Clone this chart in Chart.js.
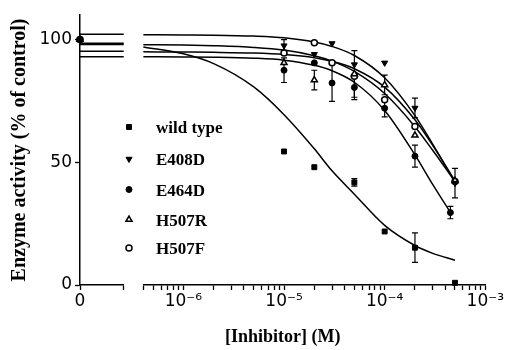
<!DOCTYPE html>
<html>
<head>
<meta charset="utf-8">
<script src="https://cdn.jsdelivr.net/npm/chart.js@4.4.1/dist/chart.umd.min.js"></script>
<style>
  html, body { margin: 0; padding: 0; background: #fff; }
  #wrap { width: 505px; height: 350px; }
</style>
</head>
<body>
<div id="wrap"><canvas id="enzymeChart" width="505" height="350"></canvas></div>
<script>
// Series names, in legend order.
const seriesNames = ["wild type", "E408D", "E464D", "H507R", "H507F"];

// Inhibitor concentrations (M) of the measured points.
const conc = [1e-5, 2e-5, 3e-5, 5e-5, 1e-4, 2e-4, 5e-4];
const concE464D = [1e-5, 2e-5, 3e-5, 5e-5, 1e-4, 2e-4, 4.5e-4];

// Measured enzyme activity (% of control), null = no point.
const wildType = [54.4, 48, null, 41.8, 21.8, 15.2, 0.9];
const e408d = [97.5, 94, 98.4, 89.8, 90.5, 72.1, 41.5];
const e464d = [87.5, 90.5, 82.3, 80.5, 72, 52.5, 29.5];
const h507r = [90.5, 83.5, null, 86, 81.5, 61, 42.5];
const h507f = [94.5, 98.7, 90.5, 85, 75.5, 64.6, 42.2];

// Error bars (+/-) for the same points, 0 = none drawn.
const wildTypeErr = [0, 0, 0, 1.5, 0, 6, 0];
const e408dErr = [2.5, 0, 0, 0, 0, 4, 6];
const e464dErr = [5, 0, 7.5, 5, 3.5, 4.5, 2.5];
const h507rErr = [0, 4, 0, 9.5, 4, 0, 0];
const h507fErr = [0, 0, 0, 0, 0, 0, 0];

// Activity with no inhibitor (the "0" point of every series).
const controlValue = 100;

// Fitted curves at these concentrations.
const fitConc = [4e-7, 1e-6, 2e-6, 5e-6, 1e-5, 2e-5, 3e-5, 5e-5, 1e-4, 2e-4, 3e-4, 5e-4];
const fitConcE464D = [4e-7, 1e-6, 2e-6, 5e-6, 1e-5, 2e-5, 3e-5, 5e-5, 1e-4, 2e-4, 3e-4, 4.5e-4];
const wildTypeFit = [97, 94.2, 90.2, 80.7, 69.4, 55.5, 46.5, 37, 24.3, 16.1, 12.9, 10.1];
const e408dFit = [102, 101.9, 101.8, 101.4, 100.7, 99.0, 97.2, 93.5, 84.4, 69.0, 57.4, 41.9];
const e464dFit = [93, 92.9, 92.8, 92.4, 91.6, 89.5, 87.3, 82.6, 71.1, 53.0, 41.0, 29.6];
const h507rFit = [95, 94.9, 94.8, 94.5, 93.9, 92.6, 91.1, 88.1, 80.6, 67.3, 56.9, 42.5];
const h507fFit = [97.9, 97.8, 97.5, 96.8, 95.7, 93.4, 91.2, 87.0, 78.0, 64.5, 54.9, 42.2];

// Top plateau of each fit, drawn across the "0" part of the broken axis.
const fitTop = [98.5, 102.2, 93, 95.2, 98];

// Axis ticks.
const yTicks = [0, 50, 100];
const logLabelExps = [-6, -5, -4, -3];

const allConc = [conc, conc, concE464D, conc, conc];
const allValues = [wildType, e408d, e464d, h507r, h507f];
const allErrors = [wildTypeErr, e408dErr, e464dErr, h507rErr, h507fErr];
const allFitConc = [fitConc, fitConc, fitConcE464D, fitConc, fitConc];
const allFits = [wildTypeFit, e408dFit, e464dFit, h507rFit, h507fFit];

// Marker look of each series (filled / open).
const markerStyles = [
  { pointStyle: "rect", rotation: 0, radius: 3.5, fill: "#000", border: 1 },
  { pointStyle: "triangle", rotation: 180, radius: 3.5, fill: "#000", border: 1 },
  { pointStyle: "circle", rotation: 0, radius: 3, fill: "#000", border: 1 },
  { pointStyle: "triangle", rotation: 0, radius: 3.5, fill: "#fff", border: 1.5 },
  { pointStyle: "circle", rotation: 0, radius: 3, fill: "#fff", border: 1.5 },
];

const sansFont = "'DejaVu Sans', 'Liberation Sans', Arial, sans-serif";
const serifFont = "'Liberation Serif', 'Times New Roman', serif";

// Build the datasets: plateau line, fit curve, control point, measured points.
const datasets = [];
seriesNames.forEach((name, i) => {
  const st = markerStyles[i];
  const pointOpts = {
    showLine: false,
    pointStyle: st.pointStyle,
    pointRotation: st.rotation,
    pointRadius: st.radius,
    pointHoverRadius: st.radius,
    pointBackgroundColor: st.fill,
    pointBorderColor: "#000",
    pointBorderWidth: st.border,
    clip: false,
    order: 1,
  };
  datasets.push({
    label: name + " top",
    xAxisID: "xZero",
    data: [{ x: 0, y: fitTop[i] }, { x: 1, y: fitTop[i] }],
    showLine: true, borderColor: "#000", borderWidth: 1.5, pointRadius: 0, clip: false, order: 2,
  });
  datasets.push({
    label: name + " fit",
    xAxisID: "x",
    data: allFitConc[i].map((c, j) => ({ x: c, y: allFits[i][j] })),
    showLine: true, cubicInterpolationMode: "monotone",
    borderColor: "#000", borderWidth: 1.5, pointRadius: 0, clip: false, order: 2,
  });
  datasets.push({ label: name, xAxisID: "xZero", data: [{ x: 0, y: controlValue }], ...pointOpts });
  datasets.push({
    label: name,
    xAxisID: "x",
    data: allConc[i]
      .map((c, j) => ({ x: c, y: allValues[i][j], e: allErrors[i][j] }))
      .filter(p => p.y !== null),
    hasErrors: true,
    ...pointOpts,
  });
});

// Error bars drawn through the chart's own scales.
const errorBarPlugin = {
  id: "errorBars",
  beforeDatasetsDraw(chart) {
    const ctx = chart.ctx;
    chart.data.datasets.forEach((ds, i) => {
      if (!ds.hasErrors) return;
      const meta = chart.getDatasetMeta(i);
      const xs = chart.scales[meta.xAxisID];
      const ys = chart.scales[meta.yAxisID];
      ds.data.forEach(p => {
        if (!p.e) return;
        const px = xs.getPixelForValue(p.x);
        const top = ys.getPixelForValue(p.y + p.e);
        const bot = ys.getPixelForValue(p.y - p.e);
        ctx.save();
        ctx.strokeStyle = "#000";
        ctx.lineWidth = 1.2;
        ctx.beginPath();
        ctx.moveTo(px, top); ctx.lineTo(px, bot);
        ctx.moveTo(px - 3, top); ctx.lineTo(px + 3, top);
        ctx.moveTo(px - 3, bot); ctx.lineTo(px + 3, bot);
        ctx.stroke();
        ctx.restore();
      });
    });
  }
};

// Legend inside the plot, left side.
const legendRows = [129, 161, 191.5, 221.5, 250];
const legendPlugin = {
  id: "insideLegend",
  afterDraw(chart) {
    const ctx = chart.ctx;
    seriesNames.forEach((name, i) => {
      const st = markerStyles[i];
      const y = legendRows[i];
      ctx.save();
      ctx.fillStyle = st.fill;
      ctx.strokeStyle = "#000";
      ctx.lineWidth = st.border;
      Chart.helpers.drawPoint(ctx, {
        pointStyle: st.pointStyle, rotation: st.rotation, radius: st.radius, borderWidth: st.border
      }, 129, y - 2);
      ctx.fillStyle = "#000";
      ctx.font = "bold 17px " + serifFont;
      ctx.textBaseline = "middle";
      ctx.textAlign = "left";
      ctx.fillText(name, 156, y);
      ctx.restore();
    });
  }
};

const tickFont = { family: sansFont, size: 17 };
const titleFont = { family: serifFont, size: 18, weight: "bold" };
const axisGrid = { drawOnChartArea: false, tickLength: 5, tickColor: "#000", tickWidth: 1.3 };
const axisBorder = { color: "#000", width: 1.5 };
const supMap = { "-": "\u207B", "0": "\u2070", "1": "\u00B9", "2": "\u00B2", "3": "\u00B3",
  "4": "\u2074", "5": "\u2075", "6": "\u2076", "7": "\u2077", "8": "\u2078", "9": "\u2079" };

const chart = new Chart(document.getElementById("enzymeChart"), {
  type: "scatter",
  data: { datasets },
  plugins: [errorBarPlugin, legendPlugin],
  options: {
    responsive: false,
    animation: false,
    layout: { padding: { top: 15, right: 17, bottom: 0, left: 0 } },
    plugins: { legend: { display: false }, tooltip: { enabled: false } },
    scales: {
      y: {
        type: "linear",
        position: "left",
        min: 0,
        max: 110,
        afterBuildTicks: ax => { ax.ticks = yTicks.map(v => ({ value: v })); },
        afterFit: s => { s.width = 80; },
        ticks: { font: tickFont, color: "#000", padding: 3, callback: v => String(v) },
        grid: axisGrid,
        border: axisBorder,
        title: {
          display: true, text: "Enzyme activity (% of control)",
          font: { family: serifFont, size: 20, weight: "bold" }, color: "#000",
          padding: { top: 8, bottom: 0 }
        }
      },
      // "0" part of the broken x axis
      xZero: {
        type: "linear",
        position: "bottom",
        stack: "xs",
        stackWeight: 44,
        min: 0,
        max: 1,
        afterBuildTicks: ax => { ax.ticks = [{ value: 0 }, { value: 1 }]; },
        afterFit: s => { s.height = 30; },
        ticks: { font: tickFont, color: "#000", padding: 1, maxRotation: 0, autoSkip: false,
          callback: v => (v === 0 ? "0" : "") },
        grid: axisGrid,
        border: axisBorder
      },
      // gap of the axis break
      xGap: {
        type: "linear",
        position: "bottom",
        stack: "xs",
        stackWeight: 20,
        afterFit: s => { s.height = 30; },
        ticks: { display: false },
        grid: { display: false },
        border: { display: false }
      },
      // logarithmic part
      x: {
        type: "logarithmic",
        position: "bottom",
        stack: "xs",
        stackWeight: 344,
        min: 4.02e-7,
        max: 1e-3,
        afterBuildTicks: ax => {
          const t = [{ value: 4.02e-7 }];
          for (let e = -7; e <= -4; e++) {
            for (let m = 1; m <= 9; m++) {
              const v = m * Math.pow(10, e);
              if (v > 4.05e-7 && v < 1e-3) t.push({ value: v });
            }
          }
          t.push({ value: 1e-3 });
          ax.ticks = t;
        },
        afterFit: s => { s.height = 30; },
        ticks: {
          font: tickFont, color: "#000", padding: 1, maxRotation: 0, minRotation: 0, autoSkip: false,
          callback: v => {
            const lg = Math.log10(v);
            const e = Math.round(lg);
            if (Math.abs(lg - e) < 1e-6 && logLabelExps.includes(e)) {
              return "10" + String(e).split("").map(c => supMap[c]).join("");
            }
            return "";
          }
        },
        grid: axisGrid,
        border: axisBorder
      },
      // holds only the x axis title, centred under the whole plot
      xTitle: {
        type: "linear",
        position: "bottom",
        weight: 1,
        afterFit: s => { s.height = 35; },
        ticks: { display: false },
        grid: { display: false },
        border: { display: false },
        title: { display: true, text: "[Inhibitor] (M)", font: titleFont, color: "#000",
          padding: { top: 0, bottom: 2 } }
      }
    }
  }
});
</script>
</body>
</html>
